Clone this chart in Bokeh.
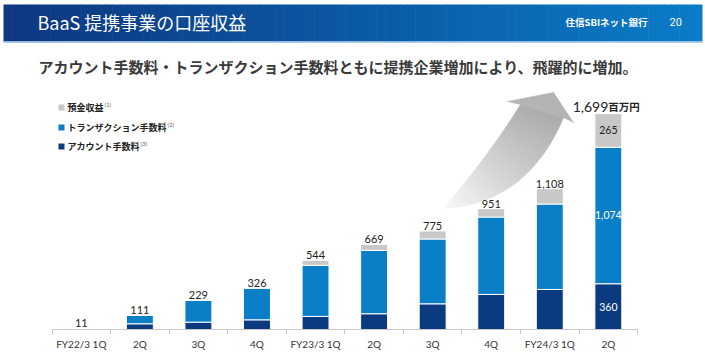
import numpy as np
from bokeh.plotting import figure
from bokeh.models import Range1d, FixedTicker
from bokeh.core.properties import value
from bokeh.embed import file_html
from bokeh.resources import INLINE

# ---------------- data ----------------
quarters = ["FY22/3 1Q", "2Q", "3Q", "4Q", "FY23/3 1Q", "2Q", "3Q", "4Q", "FY24/3 1Q", "2Q"]
account_fee = [5, 45, 58, 76, 103, 124, 202, 276, 315, 360]
transaction_fee = [6, 66, 171, 250, 402, 499, 510, 609, 672, 1074]
deposit_income = [0, 0, 0, 0, 39, 46, 63, 66, 121, 265]
total_labels = ["11", "111", "229", "326", "544", "669", "775", "951", "1,108", "1,699"]
series_names = ["預金収益", "トランザクション手数料", "アカウント手数料"]
series_notes = ["(1)", "(2)", "(3)"]
title_text = "BaaS 提携事業の口座収益"
subtitle_text = "アカウント手数料・トランザクション手数料ともに提携企業増加により、飛躍的に増加。"
unit_text = "百万円"

# ---------------- styles / layout ----------------
C_DARK = "#0b3a80"
C_BLUE = "#0a7fc8"
C_GRAY = "#c8c8c8"
W, H = 705, 357
FRAME_H = 329
CX0, DX = 80.8, 58.56          # page px of category 0, px per category
YPX = 0.1271                   # px per unit
BASE = FRAME_H                 # page y of zero line
JP = value("Noto Sans CJK JP")
NUM = value("Lato")


def X(px):
    return (px - CX0) / DX


def Y(py):
    return (BASE - py) / YPX


p = figure(width=W, height=H, x_range=Range1d(X(0), X(W)),
           y_range=Range1d(0, FRAME_H / YPX),
           min_border_left=0, min_border_right=0, min_border_top=0, min_border_bottom=H - FRAME_H,
           toolbar_location=None, output_backend="svg", y_axis_location=None)
p.xgrid.visible = False
p.ygrid.visible = False
p.outline_line_color = None
p.background_fill_color = "white"

# ---------------- header band (gradient) ----------------
n = 90
edges = np.linspace(3, 702, n + 1)
c0 = np.array([14, 55, 128])
c1 = np.array([10, 124, 200])
cols = []
for i in range(n):
    t = i / (n - 1)
    c = (c0 * (1 - t) + c1 * t).astype(int)
    cols.append("#%02x%02x%02x" % tuple(c))
p.quad(left=[X(e) for e in edges[:-1]], right=[X(min(e + 0.6, 702)) for e in edges[1:]],
       bottom=Y(41), top=Y(4), fill_color=cols, line_color=None)
p.quad(left=X(3), right=X(702), bottom=Y(42.5), top=Y(41), fill_color="#a9c9e8", line_color=None)

p.text(x=[X(37)], y=[Y(21)], text=[title_text], text_font=JP, text_font_size="18px",
       text_color="white", text_baseline="middle", text_align="left")
p.text(x=[X(565)], y=[Y(21)], text=["住信SBIネット銀行"], text_font=JP, text_font_size="9.5px",
       text_font_style="bold", text_color="white", text_baseline="middle")
p.text(x=[X(669)], y=[Y(21)], text=["20"], text_font=value("Roboto"), text_font_size="11px",
       text_color="white", text_baseline="middle")

# subtitle
p.text(x=[X(38)], y=[Y(66)], text=[subtitle_text], text_font=JP, text_font_size="15px",
       text_font_style="bold", text_color="#3a3a3a", text_baseline="middle")

# ---------------- legend ----------------
leg_cols = [C_GRAY, C_BLUE, C_DARK]
leg_y = [107, 127, 146]
p.scatter(x=[X(61)] * 3, y=[Y(v) for v in leg_y], marker="square", size=6,
          fill_color=leg_cols, line_color=None)
p.text(x=[X(67)] * 3, y=[Y(v) for v in leg_y], text=series_names, text_font=JP,
       text_font_size="9px", text_font_style="bold", text_color="#222222", text_baseline="middle")
name_w = [len(s) * 9 for s in series_names]
p.text(x=[X(67 + w + 1) for w in name_w], y=[Y(v - 3) for v in leg_y], text=series_notes,
       text_font=value("Lato"), text_font_size="6px", text_color="#666666", text_baseline="middle")

# ---------------- arrow ----------------
def bez(P0, C, P2, t):
    P0, C, P2 = map(np.array, (P0, C, P2))
    return (1 - t) ** 2 * P0 + 2 * (1 - t) * t * C + t ** 2 * P2

T = (443, 208)
U = (520, 104)
L = (563, 117)
CU = (489, 154)
CL = (527, 203)
HL, TIP, HR = (507, 101), (553, 92), (573, 122)
m = 30
ts = np.linspace(0, 1, m + 1)
axs, ays, acols = [], [], []
g0 = np.array([250, 250, 250])
g1 = np.array([172, 172, 172])
for i in range(m):
    a, b = ts[i], ts[i + 1]
    pts = [bez(T, CU, U, a), bez(T, CU, U, b), bez(T, CL, L, b), bez(T, CL, L, a)]
    axs.append([X(q[0]) for q in pts])
    ays.append([Y(q[1]) for q in pts])
    g = (g0 * (1 - (a + b) / 2) + g1 * (a + b) / 2).astype(int)
    acols.append("#%02x%02x%02x" % tuple(g))
head = [U, HL, TIP, HR, L]
axs.append([X(q[0]) for q in head])
ays.append([Y(q[1]) for q in head])
acols.append("#b4b4b4")
p.patches(xs=axs, ys=ays, fill_color=acols, line_color=acols, line_width=0.6)

# ---------------- stacked bars ----------------
xs = list(range(len(quarters)))
a_top = np.array(account_fee, dtype=float)
t_top = a_top + np.array(transaction_fee)
d_top = t_top + np.array(deposit_income)
bw = 0.46
p.vbar(x=xs, width=bw, bottom=0, top=a_top, fill_color=C_DARK, line_color="white", line_width=1)
p.vbar(x=xs, width=bw, bottom=a_top, top=t_top, fill_color=C_BLUE, line_color="white", line_width=1)
p.vbar(x=xs, width=bw, bottom=t_top, top=d_top, fill_color=C_GRAY, line_color="white", line_width=1)

# totals
last = len(quarters) - 1
p.text(x=xs[:last], y=[v + 5 / YPX for v in d_top[:last]], text=total_labels[:last],
       text_font=NUM, text_font_size="11px", text_color="#222222",
       text_align="center", text_baseline="alphabetic")
p.text(x=[xs[last]], y=[d_top[last] + 7 / YPX], text=[total_labels[last]],
       text_font=NUM, text_font_size="14px", text_color="#222222",
       text_align="right", text_baseline="alphabetic")
p.text(x=[xs[last]], y=[d_top[last] + 7 / YPX], text=[unit_text],
       text_font=JP, text_font_size="10.5px", text_font_style="bold", text_color="#222222",
       text_align="left", text_baseline="alphabetic")

# inside labels on last bar
p.text(x=[xs[last]] * 3,
       y=[a_top[last] / 2, (a_top[last] + t_top[last]) / 2, (t_top[last] + d_top[last]) / 2],
       text=[f"{account_fee[last]:,}", f"{transaction_fee[last]:,}", f"{deposit_income[last]:,}"],
       text_font=NUM, text_font_size="10.5px", text_color=["white", "white", "#222222"],
       text_align="center", text_baseline="middle")

# ---------------- x axis ----------------
ax = p.xaxis[0]
ax.ticker = FixedTicker(ticks=xs, minor_ticks=[i - 0.5 for i in range(len(quarters) + 1)])
ax.major_label_overrides = {i: q for i, q in enumerate(quarters)}
ax.bounds = (-0.5, last + 0.5)
ax.axis_line_color = "#c8c8c8"
ax.minor_tick_line_color = "#c8c8c8"
ax.minor_tick_out = 5
ax.minor_tick_in = 0
ax.major_tick_out = 0
ax.major_tick_in = 0
ax.major_tick_line_color = None
ax.major_label_standoff = 3
ax.major_label_text_font = "Lato"
ax.major_label_text_font_size = "10px"
ax.major_label_text_color = "#333333"

open("out.html", "w").write(file_html(p, INLINE))
